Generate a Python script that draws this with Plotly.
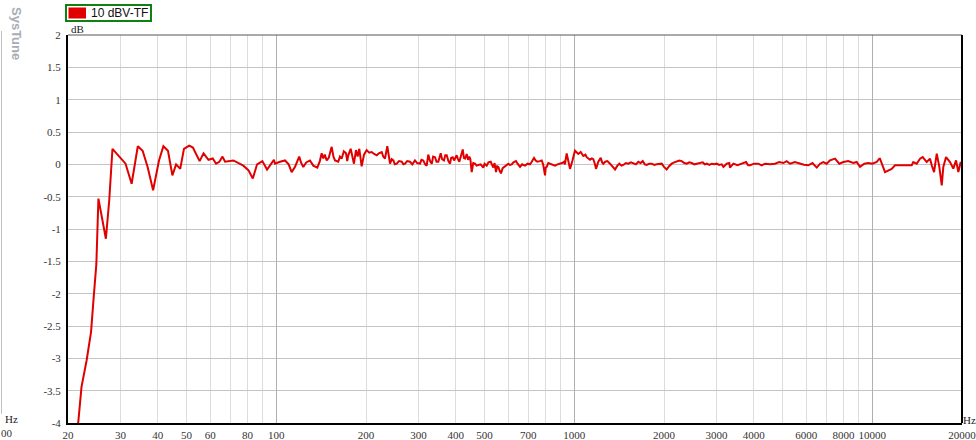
import plotly.graph_objects as go

# ---- data (frequency in Hz, level in dB) ----
freq = [
    21.6, 22.2, 23.1, 23.9, 24.3, 24.9, 25.3, 26.8, 27.5, 28.2, 31.2, 32.7, 34.3, 35.6, 37.0,
    38.6, 40.4, 41.8, 43.3, 44.8, 46.1, 47.6, 49.0, 51.0, 52.5, 55.3, 57.0, 59.2, 61.2, 62.8,
    64.4, 66.0, 67.3, 71.8, 77.5, 80.6, 83.4, 86.2, 89.8, 93.1, 98.2,
    99, 102.9, 107, 110, 112.6, 115.5, 119.4, 121, 123.2, 126, 129.7, 133.1, 137.3, 140, 142,
    143.8, 145.5, 147.6, 150, 153.4, 155.5, 157.4, 161.4, 163.5, 165.8, 168.5, 171.4, 173,
    174.4, 177.7, 180, 182.2, 185.1, 187.5, 189.9, 191.5, 193.4, 197, 201, 205, 209, 213,
    217.3, 221, 225.8, 228.5, 231.6, 235.8, 238, 240.8, 244, 247, 250, 253.6, 258, 263.6,
    267, 270.4, 275, 281, 286, 292, 297, 303.6, 307, 311.4, 316, 319.7, 323.6, 328, 332.4,
    336, 340.9, 345, 349.7, 356.2, 360, 365.4, 369, 373.2, 378, 382.8, 386, 390.8, 395, 403,
    407, 411.4, 416, 422.4, 426, 429.9, 435.6, 440, 444.4, 448, 452.6, 458, 464.4, 470, 476.4,
    485, 495.1, 500, 508.3, 515, 524.2, 530, 534.8, 540, 546.2, 551, 556, 562, 567.6, 575,
    585.4, 592, 600.6, 608, 616.6, 625, 637.4, 645, 657.6, 668, 683.4, 697, 710.2, 720, 732.6,
    742, 751.6, 765, 777.4, 786, 797.6, 802, 808.2, 818, 829, 845, 861.6, 878, 895.4, 910,
    923.6, 930, 943, 950, 967.4, 985, 1005,
    1031.6, 1050.8, 1072, 1090, 1100.8, 1129, 1145, 1158, 1170, 1183, 1204, 1226.6, 1240,
    1251, 1270, 1291, 1318, 1345, 1370, 1395, 1416, 1440, 1460, 1490, 1518, 1550, 1578, 1610,
    1640, 1670, 1697, 1725, 1750, 1785, 1819, 1855, 1890, 1930, 1965, 2000, 2042, 2080, 2122,
    2165, 2206, 2250, 2293, 2340, 2384, 2430, 2478, 2530, 2576, 2640, 2698, 2740, 2782, 2840,
    2892, 2950, 3006, 3060, 3124, 3165, 3206, 3247, 3312, 3330, 3418, 3530, 3646, 3770, 3830,
    3889, 4010, 4145, 4250, 4366, 4540, 4717, 4870, 5029, 5160, 5296, 5500, 5722, 5900, 6100,
    6300, 6508, 6680, 6849, 7030, 7212, 7497, 7750, 7992, 8300, 8636, 8860, 9096, 9400, 9698,
    10000, 10346, 10556, 10614, 11032, 11316, 11616, 11918, 12388, 13046, 13560, 13728, 14094,
    14462, 14766, 15228, 15624, 15830, 16114, 16454, 16786, 17102, 17312, 17678, 18232, 18704,
    19100, 19442, 19800, 19954,
]
level_db = [
    -4.04, -3.44, -3.03, -2.59, -2.15, -1.54, -0.53, -1.15, -0.56, 0.24, 0.01, -0.30, 0.28, 0.21, -0.04,
    -0.40, 0.06, 0.28, 0.21, -0.17, 0.00, -0.07, 0.24, 0.29, 0.26, 0.05, 0.17, 0.07, 0.09, 0.01,
    0.04, 0.12, 0.04, 0.06, -0.02, -0.09, -0.22, 0.00, 0.05, -0.08, 0.07,
    0.01, 0.04, 0.06, 0.00, -0.12, -0.04, 0.12, 0.03, -0.04, 0.03, 0.06, -0.02, -0.05, 0.05, 0.17,
    0.09, 0.15, 0.06, 0.10, 0.27, 0.12, 0.06, 0.04, 0.12, 0.09, 0.20, 0.17, 0.05,
    0.14, 0.24, 0.10, 0.01, 0.22, 0.12, 0.24, 0.10, -0.03, 0.15, 0.22, 0.18, 0.19, 0.16,
    0.14, 0.17, 0.19, 0.12, 0.09, 0.28, 0.15, 0.01, 0.08, 0.06, 0.00, 0.01, 0.05, 0.04,
    0.00, 0.01, 0.05, 0.04, 0.00, 0.06, 0.02, 0.01, 0.07, 0.06, 0.00, -0.02, 0.15, 0.05, 0.01,
    0.12, 0.11, 0.04, 0.04, 0.17, 0.08, 0.06, 0.14, 0.14, 0.05, 0.01, 0.10, 0.11, 0.06, 0.14,
    0.08, 0.04, 0.12, 0.23, 0.10, 0.09, 0.16, 0.07, 0.12, 0.08, -0.12, 0.02, 0.01, -0.02, -0.01,
    0.00, -0.05, 0.01, -0.02, 0.03, 0.04, -0.02, -0.05, 0.02, -0.12, -0.03, -0.04, -0.10, -0.14, -0.06,
    -0.03, 0.00, 0.01, -0.01, 0.00, 0.03, 0.05, 0.01, -0.04, 0.00, -0.02, 0.01, 0.00, 0.04, 0.10,
    0.06, 0.04, 0.05, 0.06, 0.00, -0.17, -0.05, -0.04, 0.02, 0.01, 0.00, -0.02, 0.00, 0.01, 0.02,
    0.04, 0.00, 0.17, 0.10, -0.07, 0.05, 0.21,
    0.16, 0.19, 0.13, 0.15, 0.11, 0.07, 0.09, 0.08, 0.02, -0.07, 0.04, 0.10, 0.03,
    0.01, 0.04, 0.05, 0.01, -0.03, -0.08, -0.02, 0.01, -0.02, -0.01, 0.02, 0.01, 0.03, 0.02, 0.00,
    0.04, 0.02, 0.05, 0.00, -0.01, 0.01, 0.01, -0.01, 0.00, 0.01, 0.01, -0.04, -0.08, -0.03, 0.01,
    0.03, 0.04, 0.06, 0.05, 0.02, 0.01, 0.03, 0.02, 0.00, 0.01, 0.02, 0.03, 0.00, 0.01, -0.01,
    0.01, 0.00, 0.01, -0.01, 0.00, -0.04, -0.01, 0.01, 0.02, -0.05, 0.01, -0.015, 0.01, 0.036, -0.015,
    -0.015, 0.01, 0.01, -0.015, 0.01, 0.00, 0.01, 0.036, 0.02, 0.05, 0.01, 0.036, 0.01, -0.005, -0.015,
    0.02, -0.05, 0.01, 0.036, 0.01, 0.062, 0.088, 0.01, 0.036, 0.05, 0.02, 0.036, -0.04, 0.01, 0.02,
    0.01, 0.036, 0.088, 0.088, -0.12, -0.09, -0.07, -0.015, -0.015, -0.015, -0.015, 0.036, 0.01,
    0.088, 0.113, 0.036, 0.088, -0.015, -0.12, 0.165, -0.04, -0.325, -0.04, 0.113, 0.036, -0.067,
    0.062, -0.12, 0.036, -0.015,
]

series_name = "10 dBV-TF"
x_tick_vals = [20, 30, 40, 50, 60, 80, 100, 200, 300, 400, 500, 700, 1000, 2000, 3000, 4000,
               6000, 8000, 10000, 20000]
x_tick_text = [str(v) for v in x_tick_vals]
x_minor_grid = [70, 90, 600, 800, 900, 5000, 7000, 9000]
x_decades = [100, 1000, 10000]
y_tick_vals = [2, 1.5, 1, 0.5, 0, -0.5, -1, -1.5, -2, -2.5, -3, -3.5, -4]
y_tick_text = ["2", "1.5", "1", "0.5", "0", "-0.5", "-1", "-1.5", "-2", "-2.5", "-3", "-3.5", "-4"]

# ---- layout geometry (pixels) ----
W, H = 976, 440
L, R, T, B = 68, 14, 35, 17
PW, PH = W - L - R, H - T - B
X_RANGE = [1.301025, 4.301035]


def px(x):
    return (x - L) / PW


def py(y):
    return (H - B - y) / PH


SERIF = "Liberation Serif, Times New Roman, serif"
SANS = "Liberation Sans, Arial, sans-serif"

fig = go.Figure()
fig.add_trace(go.Scatter(
    x=freq, y=level_db, mode="lines", name=series_name,
    line=dict(color="#e00000", width=2), xaxis="x", yaxis="y", showlegend=False,
))
# dummy trace so that the decade-grid overlay axis is drawn
fig.add_trace(go.Scatter(x=[100], y=[None], xaxis="x2", yaxis="y", showlegend=False,
                         hoverinfo="skip"))

fig.update_layout(
    template="none",
    width=W, height=H,
    margin=dict(l=L, r=R, t=T, b=B, pad=0, autoexpand=False),
    paper_bgcolor="white", plot_bgcolor="white",
    showlegend=False,
    xaxis=dict(
        type="log", range=X_RANGE, tickmode="array",
        tickvals=x_tick_vals, ticktext=x_tick_text, automargin=False,
        ticklabeloverflow="allow",
        showgrid=True, gridcolor="#dcdcdc", gridwidth=1,
        minor=dict(tickmode="array", tickvals=x_minor_grid, showgrid=True,
                   gridcolor="#dcdcdc", gridwidth=1, ticks=""),
        zeroline=False, showline=True, linecolor="#000000", linewidth=2,
        ticks="", tickfont=dict(family=SERIF, size=11, color="#333333"),
        ticklabelstandoff=1,
    ),
    xaxis2=dict(
        type="log", range=X_RANGE, overlaying="x", tickmode="array",
        tickvals=x_decades, showticklabels=False, showgrid=True, gridcolor="#b0b0b0",
        gridwidth=1, zeroline=False, showline=False, ticks="", automargin=False,
    ),
    yaxis=dict(
        range=[-4, 2], tickmode="array", tickvals=y_tick_vals, ticktext=y_tick_text,
        showgrid=True, gridcolor="#c4c4c4", gridwidth=1, zeroline=False, automargin=False,
        showline=True, linecolor="#000000", linewidth=2, ticks="",
        tickfont=dict(family=SERIF, size=11, color="#333333"), ticklabelstandoff=3,
    ),
)

shapes = [
    # frame top / right
    dict(type="line", xref="paper", yref="paper", x0=0, x1=1, y0=1, y1=1,
         line=dict(color="#555555", width=1)),
    dict(type="line", xref="paper", yref="paper", x0=1, x1=1, y0=0, y1=1,
         line=dict(color="#000000", width=2)),
    # left thin gray line
    dict(type="line", xref="paper", yref="paper", x0=px(1.5), x1=px(1.5), y0=py(31), y1=py(414),
         line=dict(color="#c0c0c0", width=1)),
    # legend box
    dict(type="rect", xref="paper", yref="paper", x0=px(66), x1=px(151), y0=py(21), y1=py(5),
         line=dict(color="#108010", width=2), fillcolor="white"),
    dict(type="rect", xref="paper", yref="paper", x0=px(68.5), x1=px(86), y0=py(18.5), y1=py(7.5),
         line=dict(width=0), fillcolor="#e00000"),
]

annotations = [
    dict(text=series_name, xref="paper", yref="paper", x=px(89), y=py(13.5), xanchor="left",
         yanchor="middle", showarrow=False, font=dict(family=SANS, size=12, color="#111111")),
    dict(text="dB", xref="paper", yref="paper", x=px(69), y=py(29), xanchor="left",
         yanchor="middle", showarrow=False, font=dict(family=SERIF, size=11, color="#222222")),
    dict(text="Hz", xref="paper", yref="paper", x=px(3), y=py(419), xanchor="left",
         yanchor="middle", showarrow=False, font=dict(family=SERIF, size=11, color="#222222")),
    dict(text="00", xref="paper", yref="paper", x=px(-1), y=py(433), xanchor="left",
         yanchor="middle", showarrow=False, font=dict(family=SERIF, size=11, color="#333333")),
    dict(text="Hz", xref="paper", yref="paper", x=px(961), y=py(420), xanchor="left",
         yanchor="middle", showarrow=False, font=dict(family=SERIF, size=11, color="#222222")),
    dict(text="<b>SysTune</b>", xref="paper", yref="paper", x=px(17), y=py(33), xanchor="center",
         yanchor="middle", showarrow=False, textangle=90,
         font=dict(family=SANS, size=13, color="#a7adb5")),
]
fig.update_layout(shapes=shapes, annotations=annotations)

fig.write_html("out.html")
